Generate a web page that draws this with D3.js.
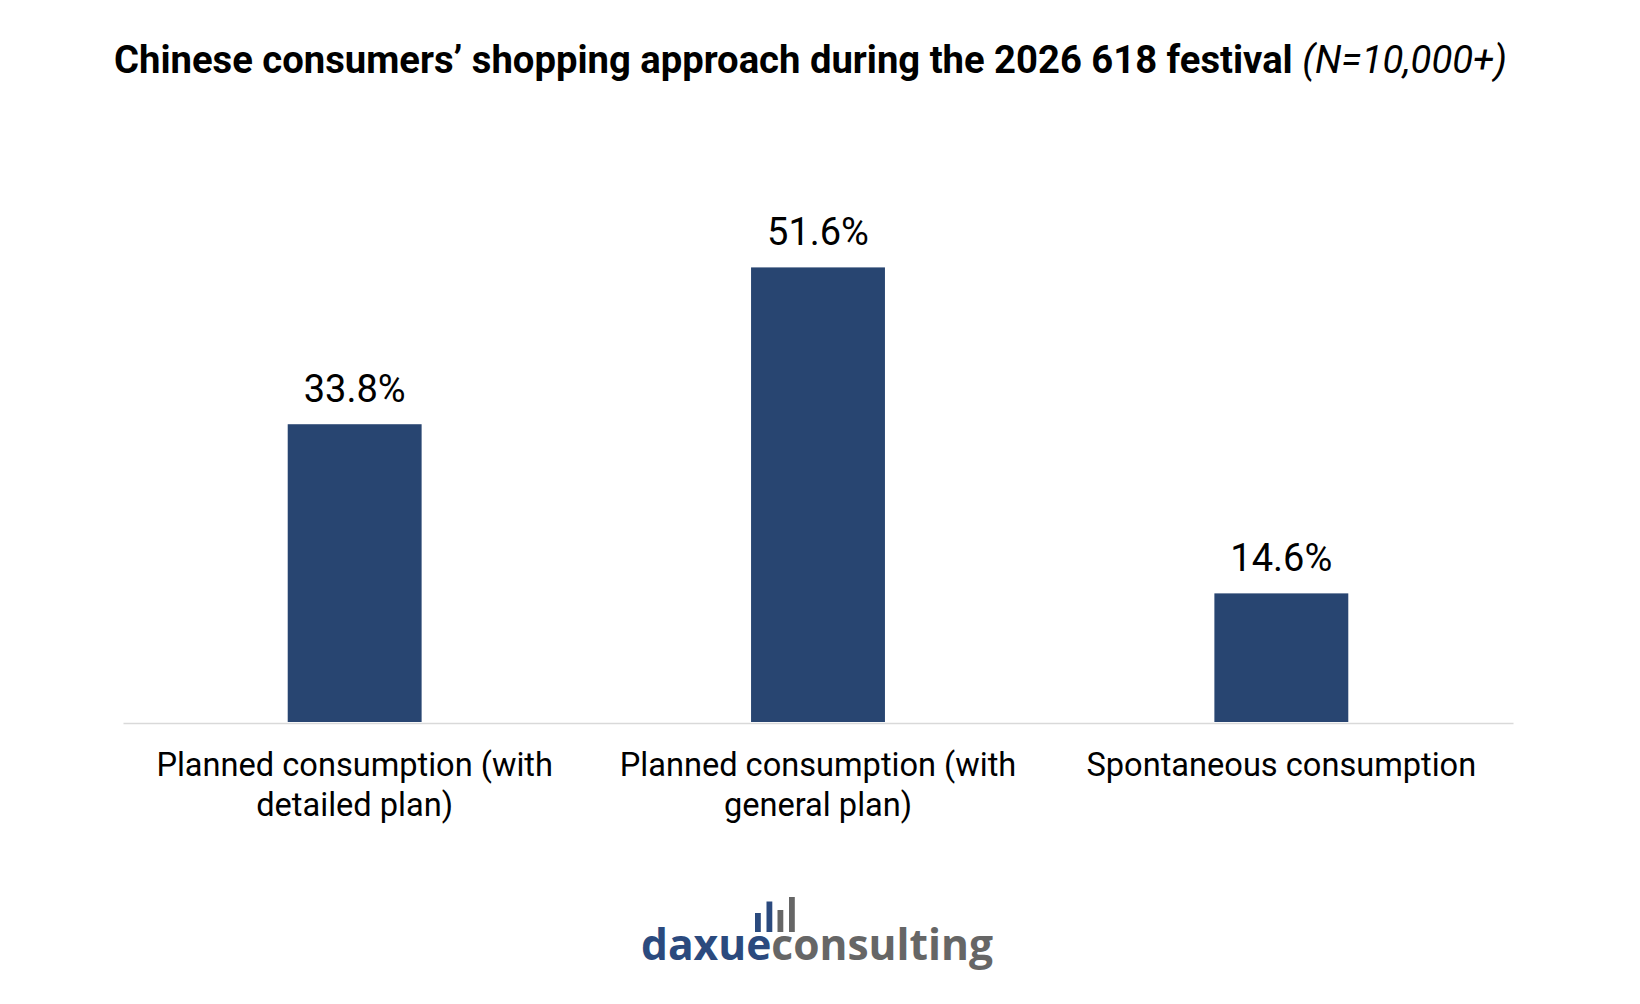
<!DOCTYPE html>
<html>
<head>
<meta charset="utf-8">
<script src="https://cdn.jsdelivr.net/npm/d3@7"></script>
<style>
  html, body { margin: 0; padding: 0; background: #fff; }
  svg { display: block; }
</style>
</head>
<body>
<svg id="chart" width="1640" height="1004"></svg>
<script>
const categories = [
  "Planned consumption (with detailed plan)",
  "Planned consumption (with general plan)",
  "Spontaneous consumption"
];
const values = [33.8, 51.6, 14.6];
const valueLabels = ["33.8%", "51.6%", "14.6%"];
const titleMain = "Chinese consumers\u2019 shopping approach during the 2026 618 festival ";
const titleNote = "(N=10,000+)";

const svg = d3.select("#chart");
const baseY = 722;

const x = d3.scaleBand()
  .domain(categories)
  .range([123, 1513])
  .paddingInner(0.711)
  .paddingOuter(0.3555);

const y = d3.scaleLinear()
  .domain([0, 60])
  .range([baseY, baseY - 60 * 8.81]);

// Title
const title = svg.append("text")
  .attr("x", 114)
  .attr("y", 73)
  .attr("textLength", 1393)
  .attr("lengthAdjust", "spacingAndGlyphs")
  .style("font-family", "Roboto, sans-serif")
  .style("font-size", "38px")
  .style("fill", "#000");
title.append("tspan").style("font-weight", "bold").text(titleMain);
title.append("tspan").style("font-style", "italic").style("font-weight", "normal").text(titleNote);

// Bars
svg.append("g").selectAll("rect")
  .data(values)
  .join("rect")
  .attr("x", (d, i) => x(categories[i]))
  .attr("width", x.bandwidth())
  .attr("y", d => y(d))
  .attr("height", d => y(0) - y(d))
  .attr("fill", "#284571");

// Axis line
const axis = svg.append("g")
  .attr("transform", `translate(0,${baseY + 1})`)
  .call(d3.axisBottom(x).tickSize(0).tickSizeOuter(0).tickFormat(""));
axis.select(".domain").attr("stroke", "#d9d9d9").attr("stroke-width", 1.6);

// Value labels
svg.append("g").selectAll("text")
  .data(values)
  .join("text")
  .attr("x", (d, i) => x(categories[i]) + x.bandwidth() / 2)
  .attr("y", d => y(d) - 22)
  .attr("text-anchor", "middle")
  .style("font-family", "Roboto, sans-serif")
  .style("font-size", "38px")
  .style("fill", "#000")
  .text((d, i) => valueLabels[i]);

// Category labels with wrapping
const maxW = 440;
const catG = svg.append("g");
categories.forEach(c => {
  const cx = x(c) + x.bandwidth() / 2;
  const t = catG.append("text")
    .attr("x", cx)
    .attr("y", 776)
    .attr("text-anchor", "middle")
    .style("font-family", "Roboto, sans-serif")
    .style("font-size", "32.6px")
    .style("fill", "#000");
  const words = c.split(" ");
  let line = [];
  let lineNo = 0;
  let ts = t.append("tspan").attr("x", cx).attr("y", 776);
  words.forEach(w => {
    line.push(w);
    ts.text(line.join(" "));
    if (ts.node().getComputedTextLength() > maxW && line.length > 1) {
      line.pop();
      ts.text(line.join(" "));
      line = [w];
      lineNo++;
      ts = t.append("tspan").attr("x", cx).attr("y", 776 + lineNo * 40).text(w);
    }
  });
});

// Logo
const logo = svg.append("g");
const logoBars = [
  {x: 755, top: 913, c: "#2b4a7e"},
  {x: 766.5, top: 901.5, c: "#2b4a7e"},
  {x: 777.5, top: 910, c: "#666666"},
  {x: 789, top: 897, c: "#666666"}
];
logo.selectAll("rect").data(logoBars).join("rect")
  .attr("x", d => d.x).attr("y", d => d.top)
  .attr("width", 5.8).attr("height", d => 932 - d.top)
  .attr("fill", d => d.c);
const lt = logo.append("text")
  .attr("x", 641)
  .attr("y", 960)
  .attr("textLength", 352)
  .attr("lengthAdjust", "spacingAndGlyphs")
  .style("font-family", "'Open Sans', sans-serif")
  .style("font-weight", "bold")
  .style("font-size", "43px");
lt.append("tspan").attr("fill", "#2b4a7e").text("daxue");
lt.append("tspan").attr("fill", "#666666").text("consulting");
</script>
</body>
</html>
